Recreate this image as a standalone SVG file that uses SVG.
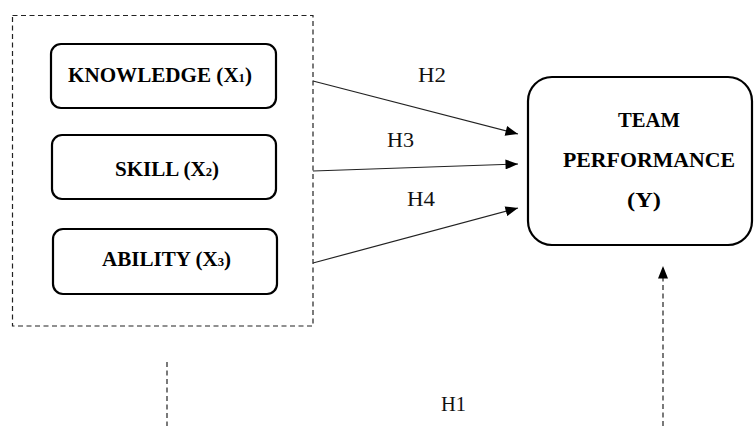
<svg xmlns="http://www.w3.org/2000/svg" width="754" height="426" viewBox="0 0 754 426">
<style>
.box{fill:#fff;stroke:#000;stroke-width:2.2}
.bt{font-family:"Liberation Serif","Times New Roman",serif;font-weight:bold;font-size:20px;fill:#000}
.lt{font-family:"Liberation Serif","Times New Roman",serif;font-size:20px;fill:#111}
.ln{stroke:#222;stroke-width:1.2;fill:none}
.dash{stroke:#222;stroke-width:1.2;fill:none;stroke-dasharray:5 3.5}
</style>
<defs>
<marker id="ah" viewBox="0 0 10 8" refX="10" refY="4" markerWidth="13" markerHeight="10" markerUnits="userSpaceOnUse" orient="auto">
<path d="M0,0 L10,4 L0,8 Z" fill="#000"/>
</marker>
</defs>
<rect x="0" y="0" width="754" height="426" fill="#fff"/>
<g id="group-box">
<rect x="12.5" y="15.5" width="300.5" height="310.5" class="dash"/>
</g>
<g id="knowledge">
<rect x="51" y="44" width="225" height="64" rx="10" class="box"/>
<text x="68" y="82" class="bt" textLength="184" lengthAdjust="spacingAndGlyphs">KNOWLEDGE (X<tspan font-size="12">1</tspan>)</text>
</g>
<g id="skill">
<rect x="52" y="135" width="224" height="64" rx="10" class="box"/>
<text x="115" y="176" class="bt" textLength="104" lengthAdjust="spacingAndGlyphs">SKILL (X<tspan font-size="12">2</tspan>)</text>
</g>
<g id="ability">
<rect x="53" y="229" width="224" height="65" rx="10" class="box"/>
<text x="102" y="266" class="bt" textLength="129" lengthAdjust="spacingAndGlyphs">ABILITY (X<tspan font-size="12">3</tspan>)</text>
</g>
<g id="team-performance">
<rect x="528" y="77" width="224" height="168" rx="24" class="box"/>
<text x="618" y="127" class="bt" textLength="62" lengthAdjust="spacingAndGlyphs">TEAM</text>
<text x="563" y="167" class="bt" textLength="172" lengthAdjust="spacingAndGlyphs">PERFORMANCE</text>
<text x="627" y="207" class="bt" textLength="34" lengthAdjust="spacingAndGlyphs">(Y)</text>
</g>
<g id="connectors">
<line x1="313" y1="81" x2="518" y2="134" class="ln" marker-end="url(#ah)"/>
<line x1="313" y1="171" x2="518" y2="164" class="ln" marker-end="url(#ah)"/>
<line x1="313" y1="263" x2="518" y2="208" class="ln" marker-end="url(#ah)"/>
<line x1="167" y1="362" x2="167" y2="426" class="dash"/>
<line x1="663" y1="426" x2="663" y2="266" class="dash" marker-end="url(#ah)"/>
</g>
<g id="labels">
<text x="418" y="82" class="lt" textLength="28" lengthAdjust="spacingAndGlyphs">H2</text>
<text x="387" y="147" class="lt" textLength="27" lengthAdjust="spacingAndGlyphs">H3</text>
<text x="407" y="206" class="lt" textLength="28" lengthAdjust="spacingAndGlyphs">H4</text>
<text x="441" y="411" class="lt" textLength="25" lengthAdjust="spacingAndGlyphs">H1</text>
</g>
</svg>
